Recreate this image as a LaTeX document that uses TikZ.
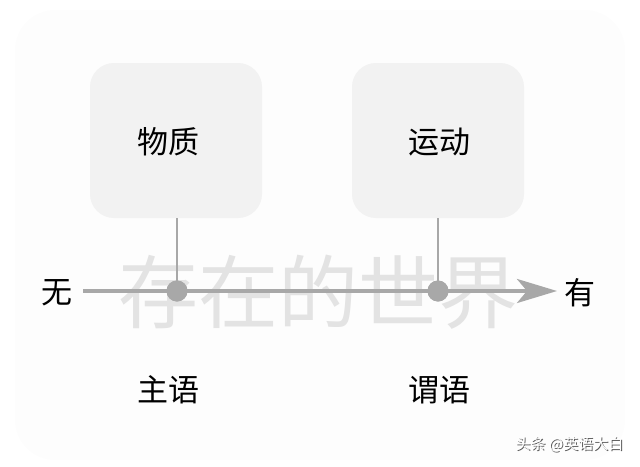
\documentclass[tikz,border=0pt]{standalone}
\usepackage{fontspec}
\setmainfont{Noto Sans CJK SC}
\usetikzlibrary{arrows.meta}
\definecolor{boxfill}{HTML}{F2F2F2}
\definecolor{axisgray}{HTML}{A8A8A8}
\definecolor{markgray}{HTML}{E3E3E3}
\definecolor{bgfaint}{HTML}{FDFDFD}
\tikzset{
  conceptbox/.style={fill=boxfill, rounded corners=24pt, minimum width=172pt, minimum height=155pt, inner sep=0pt},
  label/.style={inner sep=0pt, font=\fontsize{31}{31}\selectfont},
  dotmark/.style={circle, fill=axisgray, minimum size=21pt, inner sep=0pt},
  stem/.style={draw=axisgray, line width=2pt},
  axisline/.style={draw=axisgray, line width=4pt, -{Stealth[length=40pt, width=24pt, inset=10pt]}},
}
\begin{document}
\begin{tikzpicture}[x=1pt,y=-1pt]
\useasboundingbox (0,0) rectangle (640,466);
\fill[bgfaint, rounded corners=40pt] (15,10) rectangle (625,460);
% watermark text
\node[inner sep=0pt, text=markgray, font=\fontsize{80}{80}\selectfont] (world) at (318,292) {存在的世界};
% boxes
\node[conceptbox] (matter) at (176,140.5) {};
\node[conceptbox] (motion) at (438,140.5) {};
\node[label] (mattertext) at (168,142) {物质};
\node[label] (motiontext) at (439,142) {运动};
% axis
\coordinate (axstart) at (83,291);
\coordinate (axend) at (557,291);
\draw[axisline] (axstart) -- (axend);
\node[dotmark] (d1) at (177,291) {};
\node[dotmark] (d2) at (438,291) {};
\draw[stem] (matter.south -| d1) -- (d1.center);
\draw[stem] (motion.south -| d2) -- (d2.center);
\node[dotmark] at (d1) {};
\node[dotmark] at (d2) {};
% labels
\node[label] (wu) at (57,293) {无};
\node[label] (you) at (580,293) {有};
\node[label] (subj) at (168,390) {主语};
\node[label] (pred) at (439,390) {谓语};
% corner credit
\node[inner sep=0pt, text=gray!70!black, font=\fontsize{15}{15}\selectfont] (credit) at (570.5,445.5) {头条 @英语大白};
\node[inner sep=0pt, text=white, font=\fontsize{15}{15}\selectfont] at (569.5,444.5) {头条 @英语大白};
\end{tikzpicture}
\end{document}
